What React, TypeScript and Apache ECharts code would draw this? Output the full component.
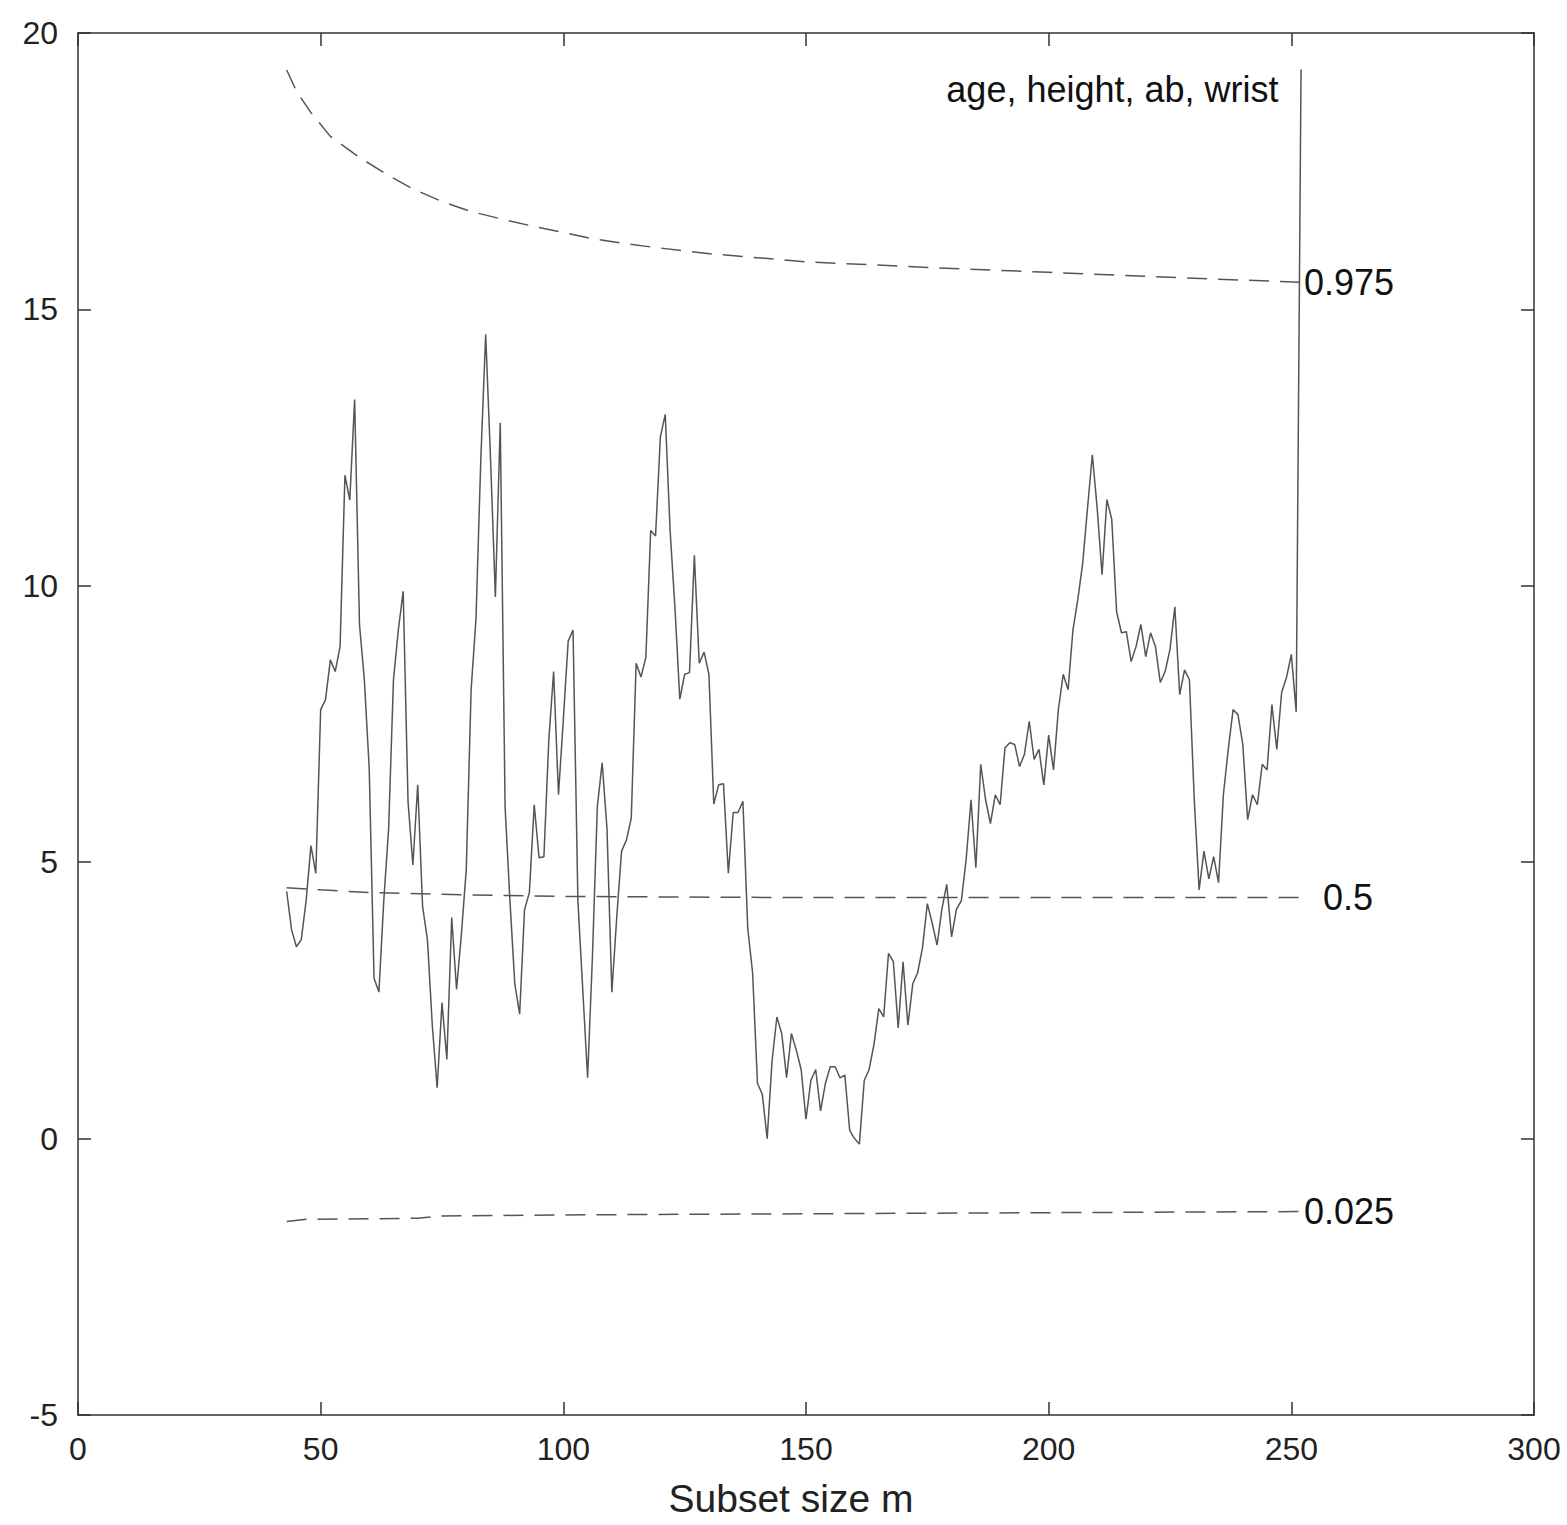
import React, { useEffect, useRef } from "react";
import * as echarts from "echarts";

// Forward search: minimum deletion t-statistic vs subset size m
const mStart = 43;
const tStat = [
  4.47, 3.78, 3.47, 3.6, 4.3, 5.3, 4.8, 7.76, 7.94, 8.66,
  8.45, 8.9, 12.0, 11.55, 13.37, 9.3, 8.3, 6.7, 2.9, 2.65,
  4.3, 5.6, 8.3, 9.2, 9.9, 6.1, 4.95, 6.4, 4.2, 3.6,
  2.05, 0.92, 2.46, 1.43, 4.0, 2.7, 3.7, 4.87, 8.12, 9.4,
  12.3, 14.55, 12.3, 9.8, 12.95, 6.0, 4.3, 2.8, 2.25, 4.14,
  4.45, 6.04, 5.08, 5.1, 7.2, 8.45, 6.22, 7.58, 9.0, 9.2,
  4.3, 2.7, 1.1, 3.3, 6.0, 6.8, 5.6, 2.65, 4.0, 5.2,
  5.4, 5.8, 8.6, 8.35, 8.7, 11.0, 10.9, 12.7, 13.1, 11.0,
  9.6, 7.95, 8.4, 8.43, 10.55, 8.6, 8.8, 8.4, 6.05, 6.4,
  6.42, 4.8, 5.9, 5.9, 6.1, 3.8, 3.0, 1.0, 0.8, 0.0,
  1.4, 2.2, 1.9, 1.1, 1.9, 1.6, 1.25, 0.35, 1.05, 1.25,
  0.5, 1.0, 1.3, 1.3, 1.1, 1.15, 0.15, 0.0, -0.1, 1.05,
  1.25, 1.7, 2.35, 2.2, 3.35, 3.2, 2.0, 3.2, 2.05, 2.8,
  3.0, 3.45, 4.25, 3.9, 3.5, 4.15, 4.6, 3.65, 4.15, 4.3,
  5.05, 6.13, 4.9, 6.77, 6.13, 5.7, 6.22, 6.04, 7.07, 7.16,
  7.13, 6.73, 6.95, 7.55, 6.86, 7.04, 6.4, 7.3, 6.67, 7.76,
  8.4, 8.12, 9.2, 9.75, 10.4, 11.4, 12.37, 11.4, 10.2, 11.56,
  11.2, 9.53, 9.15, 9.17, 8.63, 8.9, 9.3, 8.72, 9.15, 8.9,
  8.25, 8.45, 8.85, 9.62, 8.03, 8.48, 8.3, 6.13, 4.5, 5.2,
  4.7, 5.1, 4.63, 6.22, 7.04, 7.76, 7.67, 7.13, 5.77, 6.22,
  6.04, 6.77, 6.67, 7.85, 7.04, 8.07, 8.34, 8.76, 7.72, 19.34,
];

const upperM = [43, 45, 48, 52, 58, 64, 69, 75, 81, 88, 94, 100, 106, 112, 118, 125, 131, 138, 150, 175, 200, 225, 252];
const upperV = [19.33, 18.95, 18.56, 18.13, 17.75, 17.42, 17.18, 16.95, 16.77, 16.62, 16.5, 16.39, 16.28, 16.2, 16.13, 16.06, 16.0, 15.95, 15.86, 15.76, 15.67, 15.58, 15.49];

const medianM = [43, 50, 60, 80, 100, 150, 252];
const medianV = [4.54, 4.5, 4.45, 4.41, 4.38, 4.36, 4.36];

const lowerM = [43, 47, 60, 70, 75, 100, 150, 200, 252];
const lowerV = [-1.5, -1.46, -1.45, -1.44, -1.4, -1.38, -1.36, -1.34, -1.32];

const xTicks = { min: 0, max: 300, interval: 50 };
const yTicks = { min: -5, max: 20, interval: 5 };

const FONT = "'Liberation Sans', Arial, Helvetica, sans-serif";

export default function App() {
  const ref = useRef<HTMLDivElement>(null);

  useEffect(() => {
    document.body.style.margin = "0";
    if (!ref.current) return;
    const chart = echarts.init(ref.current, null, { renderer: "svg" });

    const mainData = tStat.map((v, i) => [mStart + i, v]);
    const lastIdx = mainData.length - 1;

    const axisLine = { show: true, onZero: false, lineStyle: { color: "#333", width: 1.5 } };
    const axisTick = { show: true, inside: true, length: 13, lineStyle: { color: "#333", width: 1.5 } };
    const labelStyle = { color: "#222", fontSize: 32, fontFamily: FONT };

    const dashed = (name: string, ms: number[], vs: number[], label: string, dist: number) => ({
      type: "line",
      name,
      data: ms.map((m, i) => [m, vs[i]]),
      showSymbol: false,
      symbol: "none",
      lineStyle: { color: "#555", width: 1.5, type: [20, 11] },
      endLabel: {
        show: true,
        formatter: label,
        distance: dist,
        color: "#111",
        fontSize: 36,
        fontFamily: FONT,
      },
      z: 2,
    });

    chart.setOption({
      animation: false,
      backgroundColor: "#fff",
      grid: { left: 78, right: 33, top: 33, bottom: 110, containLabel: false },
      xAxis: [
        {
          type: "value",
          ...xTicks,
          position: "bottom",
          axisLine,
          axisTick,
          splitLine: { show: false },
          axisLabel: { ...labelStyle, margin: 18 },
          name: "Subset size m",
          nameLocation: "middle",
          nameGap: 64,
          nameTextStyle: { color: "#222", fontSize: 39, fontFamily: FONT, padding: [0, 30, 0, 0] },
        },
        {
          type: "value",
          ...xTicks,
          position: "top",
          axisLine,
          axisTick,
          splitLine: { show: false },
          axisLabel: { show: false },
        },
      ],
      yAxis: [
        {
          type: "value",
          ...yTicks,
          position: "left",
          axisLine,
          axisTick,
          splitLine: { show: false },
          axisLabel: { ...labelStyle, margin: 20 },
        },
        {
          type: "value",
          ...yTicks,
          position: "right",
          axisLine,
          axisTick,
          splitLine: { show: false },
          axisLabel: { show: false },
        },
      ],
      series: [
        dashed("0.975", upperM, upperV, "0.975", 3),
        dashed("0.5", medianM, medianV, "0.5", 22),
        dashed("0.025", lowerM, lowerV, "0.025", 3),
        {
          type: "line",
          name: "t",
          data: mainData,
          showSymbol: false,
          symbol: "none",
          lineStyle: { color: "#555", width: 1.5 },
          z: 3,
          markPoint: {
            symbol: "circle",
            symbolSize: 1,
            itemStyle: { color: "rgba(0,0,0,0)" },
            label: {
              show: true,
              position: "left",
              distance: 22,
              offset: [0, 20],
              formatter: "age, height, ab, wrist",
              color: "#111",
              fontSize: 36,
              fontFamily: FONT,
            },
            data: [{ coord: mainData[lastIdx] }],
          },
        },
      ],
    });

    return () => chart.dispose();
  }, []);

  return <div ref={ref} style={{ width: 1567, height: 1525 }} />;
}
